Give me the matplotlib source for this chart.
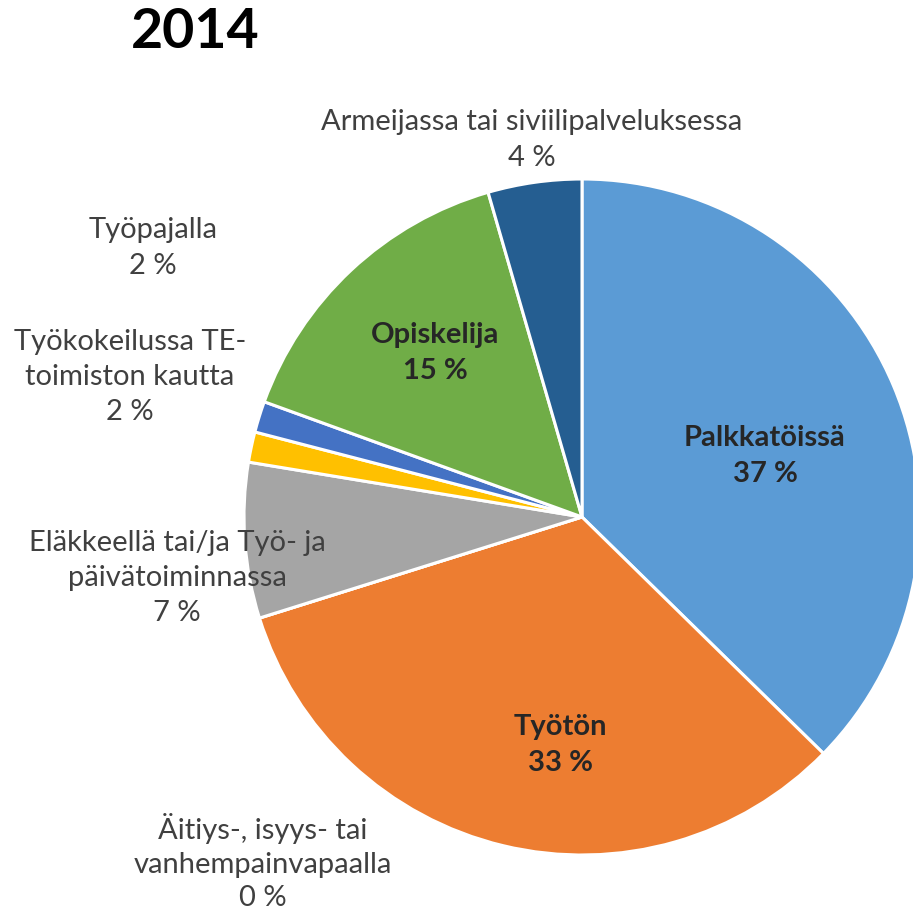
import matplotlib
matplotlib.use("Agg")
import matplotlib.pyplot as plt

categories = ["Palkkatöissä", "Työtön", "Äitiys-, isyys- tai\nvanhempainvapaalla",
              "Eläkkeellä tai/ja Työ- ja\npäivätoiminnassa", "Työkokeilussa TE-\ntoimiston kautta",
              "Työpajalla", "Opiskelija", "Armeijassa tai siviilipalveluksessa"]
values = [37.33, 32.83, 0.0, 7.43, 1.45, 1.49, 14.98, 4.48]
pct_labels = ["37 %", "33 %", "0 %", "7 %", "2 %", "2 %", "15 %", "4 %"]
colors = ["#5B9BD5", "#ED7D31", "#A5A5A5", "#A5A5A5", "#FFC000", "#4472C4", "#70AD47", "#255E91"]
title = "2014"

W, H = 913, 911
fig = plt.figure(figsize=(W / 100, H / 100), dpi=100)
ax = fig.add_axes([0, 0, 1, 1])
ax.pie(values, colors=colors, startangle=90, counterclock=False,
       center=(582, H - 517), radius=338,
       wedgeprops=dict(edgecolor="white", linewidth=2.2))
ax.set_xlim(0, W)
ax.set_ylim(0, H)
ax.set_aspect("equal")
ax.axis("off")

font = "Lato"
fs = 21
out_col = "#404040"
in_col = "#262626"

def lbl(x, y, txt, bold=False, color=out_col, ls=1.45):
    ax.text(x, H - y, txt, ha="center", va="center", fontsize=fs, family=font,
            fontweight="bold" if bold else "normal", color=color, linespacing=ls)

# outside labels (positions in pixels from top-left)
lbl(532, 140, categories[7] + "\n" + pct_labels[7])
lbl(153, 248, categories[5] + "\n" + pct_labels[5])
lbl(130, 377, categories[4] + "\n" + pct_labels[4])
lbl(177, 578, categories[3] + "\n" + pct_labels[3])
lbl(263, 862, categories[2] + "\n" + pct_labels[2], ls=1.35)
# inside labels
lbl(435, 353, categories[6] + "\n" + pct_labels[6], bold=True, color=in_col)
lbl(765, 456, categories[0] + "\n" + pct_labels[0], bold=True, color=in_col)
lbl(560, 745, categories[1] + "\n" + pct_labels[1], bold=True, color=in_col)

ax.text(195, H - 32, title, ha="center", va="center", fontsize=40, family=font,
        fontweight="bold", color="black")

fig.savefig("out.png", dpi=100)
